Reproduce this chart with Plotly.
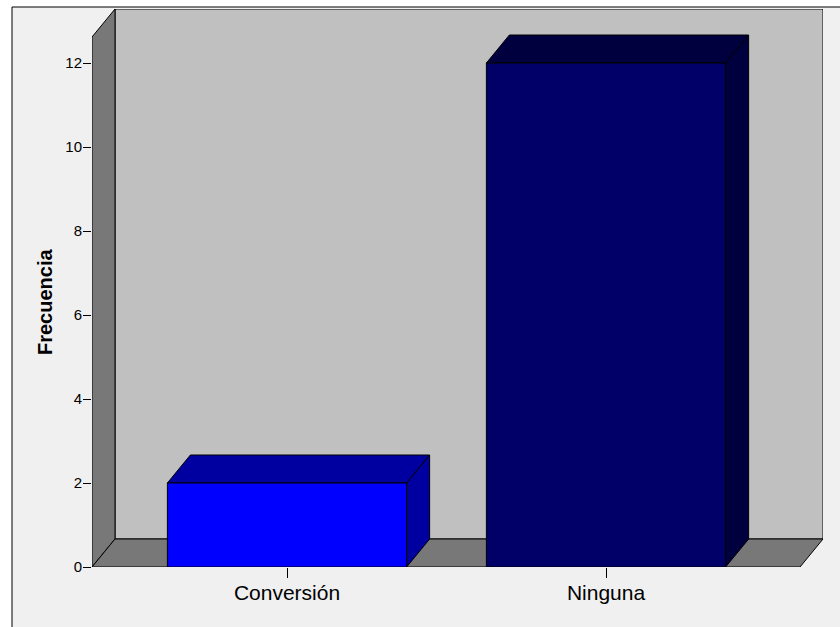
import plotly.graph_objects as go

# Data
categories = ["Conversión", "Ninguna"]
frequencies = [2, 12]
front_colors = ["#0000ff", "#000068"]
shade_colors = ["#0000a0", "#00003f"]
y_tick_values = [0, 2, 4, 6, 8, 10, 12]

# Page / plot geometry (pixels)
W, H = 840, 627
left_px, right_px, top_px, bottom_px = 92, 823, 9, 567
px_per_cat = 319          # distance between category centres
px_per_unit = 42          # pixels per frequency unit
depth_px = (23, 28)       # oblique depth of the 3D box
bar_width = 0.75
first_center_px = 287

x_lo = (left_px - first_center_px) / px_per_cat
x_hi = x_lo + (right_px - left_px) / px_per_cat
y_hi = (bottom_px - top_px) / px_per_unit
dx = depth_px[0] / px_per_cat
dy = depth_px[1] / px_per_unit
front_top = y_hi - dy
front_right = x_hi - dx

def path(points):
    return "M " + " L ".join(f"{x},{y}" for x, y in points) + " Z"

outline = dict(color="black", width=1)
shapes = []

# Outer frame of the chart
dom_w = right_px - left_px
dom_h = bottom_px - top_px
shapes.append(dict(
    type="rect", xref="paper", yref="paper", layer="below",
    x0=(12 - left_px) / dom_w, x1=(W + 10 - left_px) / dom_w,
    y0=(bottom_px - (H + 10)) / dom_h, y1=(bottom_px - 7) / dom_h,
    fillcolor="#f0f0f0", line=outline,
))

# Back wall
shapes.append(dict(type="path", xref="x", yref="y", layer="below",
                   path=path([(x_lo + dx, dy), (x_lo + dx, y_hi), (x_hi, y_hi), (x_hi, dy)]),
                   fillcolor="#c0c0c0", line=outline))
# Left wall
shapes.append(dict(type="path", xref="x", yref="y", layer="below",
                   path=path([(x_lo, 0), (x_lo, front_top), (x_lo + dx, y_hi), (x_lo + dx, dy)]),
                   fillcolor="#787878", line=outline))
# Floor
shapes.append(dict(type="path", xref="x", yref="y", layer="below",
                   path=path([(x_lo, 0), (x_lo + dx, dy), (x_hi, dy), (front_right, 0)]),
                   fillcolor="#787878", line=outline))

# Top and side faces of each bar
for i, (v, c) in enumerate(zip(frequencies, shade_colors)):
    xl, xr = i - bar_width / 2, i + bar_width / 2
    shapes.append(dict(type="path", xref="x", yref="y", layer="below",
                       path=path([(xl, v), (xl + dx, v + dy), (xr + dx, v + dy), (xr, v)]),
                       fillcolor=c, line=outline))
    shapes.append(dict(type="path", xref="x", yref="y", layer="below",
                       path=path([(xr, 0), (xr, v), (xr + dx, v + dy), (xr + dx, dy)]),
                       fillcolor=c, line=outline))

fig = go.Figure(go.Bar(
    x=list(range(len(categories))), y=frequencies, width=bar_width,
    marker=dict(color=front_colors, line=outline),
    hoverinfo="skip",
))

fig.update_layout(
    width=W, height=H,
    margin=dict(l=left_px, r=W - right_px, t=top_px, b=H - bottom_px, pad=0),
    paper_bgcolor="white",
    plot_bgcolor="rgba(0,0,0,0)",
    showlegend=False,
    shapes=shapes,
    font=dict(family="Arial, Liberation Sans, sans-serif", color="black"),
    xaxis=dict(
        range=[x_lo, x_hi], tickmode="array",
        tickvals=list(range(len(categories))), ticktext=categories,
        ticks="outside", ticklen=10, tickwidth=1, tickcolor="black",
        ticklabelstandoff=-3,
        tickfont=dict(size=21), showgrid=False, zeroline=False, showline=False,
        fixedrange=True,
    ),
    yaxis=dict(
        range=[0, y_hi], tickmode="array", tickvals=y_tick_values,
        ticks="outside", ticklen=8, tickwidth=1, tickcolor="black",
        ticklabelstandoff=-2,
        tickfont=dict(size=15), showgrid=False, zeroline=False, showline=False,
        fixedrange=True,
    ),
    annotations=[dict(
        text="<b>Frecuencia</b>", xref="paper", yref="y",
        x=(45 - left_px) / dom_w, y=front_top / 2,
        xanchor="center", yanchor="middle", textangle=-90,
        showarrow=False, font=dict(size=20),
    )],
)

fig.write_html("out.html")
